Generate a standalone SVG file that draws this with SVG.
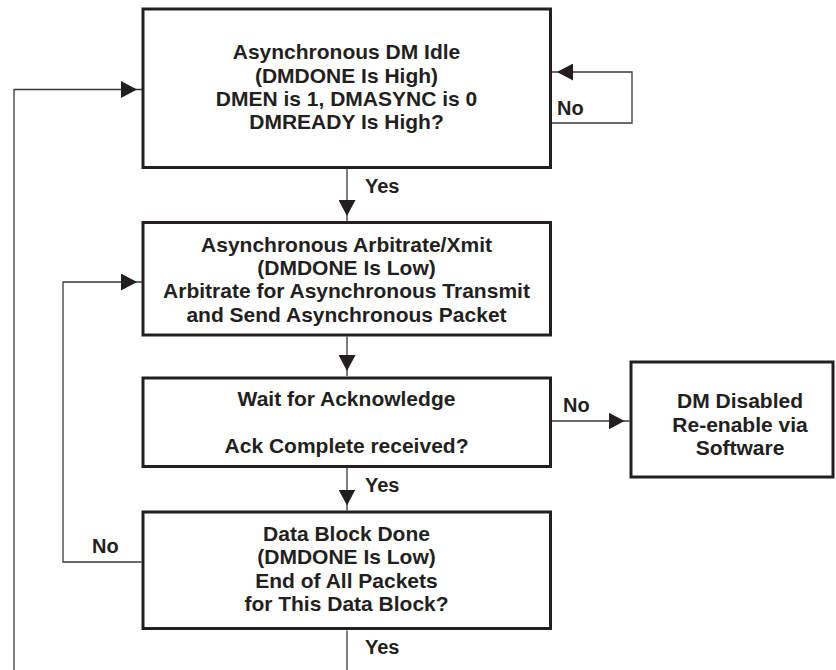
<svg xmlns="http://www.w3.org/2000/svg" width="836" height="670" viewBox="0 0 836 670">
<style>
.box{fill:#fff;stroke:#231f20;stroke-width:3}
.t{font-family:"Liberation Sans",Arial,sans-serif;font-weight:bold;font-size:21px;fill:#231f20;text-anchor:middle}
.lbl{font-family:"Liberation Sans",Arial,sans-serif;font-weight:bold;font-size:20px;fill:#231f20}
.c{fill:none;stroke:#3a3a3a;stroke-width:1.3}
</style>
<defs>
<marker id="ah" viewBox="0 0 21 17" refX="21" refY="8.5" markerWidth="21" markerHeight="17" markerUnits="userSpaceOnUse" orient="auto">
<path d="M0,0 L16,8.5 L0,17 Z" fill="#231f20"/>
</marker>
</defs>
<rect width="836" height="670" fill="#fff"/>
<g id="connectors">
<path class="c" d="M14,670 L14,89.5 L142,89.5" marker-end="url(#ah)"/>
<path class="c" d="M551.5,123 L632,123 L632,72 L552,72" marker-end="url(#ah)"/>
<path class="c" d="M347,168.5 L347,221" marker-end="url(#ah)"/>
<path class="c" d="M347,336.5 L347,376" marker-end="url(#ah)"/>
<path class="c" d="M347,468 L347,510.5" marker-end="url(#ah)"/>
<path class="c" d="M551.5,421 L629.5,421" marker-end="url(#ah)"/>
<path class="c" d="M141.5,562 L63,562 L63,282 L142,282" marker-end="url(#ah)"/>
<path class="c" d="M347,630.5 L347,670"/>
<text class="lbl" x="365" y="193">Yes</text>
<text class="lbl" x="557" y="115">No</text>
<text class="lbl" x="365" y="492">Yes</text>
<text class="lbl" x="563" y="412">No</text>
<text class="lbl" x="92" y="553">No</text>
<text class="lbl" x="365" y="654">Yes</text>
</g>
<g id="idle">
<rect class="box" x="143" y="9" width="407.5" height="158.5"/>
<text class="t" x="346.5" y="59">Asynchronous DM Idle</text>
<text class="t" x="346.5" y="82.5">(DMDONE Is High)</text>
<text class="t" x="346.5" y="106">DMEN is 1, DMASYNC is 0</text>
<text class="t" x="346.5" y="129">DMREADY Is High?</text>
</g>
<g id="arbitrate">
<rect class="box" x="143" y="222.5" width="407.5" height="112.5"/>
<text class="t" x="346.5" y="251.5">Asynchronous Arbitrate/Xmit</text>
<text class="t" x="346.5" y="274.8">(DMDONE Is Low)</text>
<text class="t" x="346.5" y="298.1">Arbitrate for Asynchronous Transmit</text>
<text class="t" x="346.5" y="321.5">and Send Asynchronous Packet</text>
</g>
<g id="wait">
<rect class="box" x="143" y="378" width="407.5" height="88.5"/>
<text class="t" x="346.5" y="406">Wait for Acknowledge</text>
<text class="t" x="346.5" y="452.7">Ack Complete received?</text>
</g>
<g id="disabled">
<rect class="box" x="631" y="362" width="202" height="115"/>
<text class="t" x="740" y="408.3">DM Disabled</text>
<text class="t" x="740" y="431.7">Re-enable via</text>
<text class="t" x="740" y="455">Software</text>
</g>
<g id="datablock">
<rect class="box" x="143" y="512" width="407.5" height="116.5"/>
<text class="t" x="346.5" y="541">Data Block Done</text>
<text class="t" x="346.5" y="564.3">(DMDONE Is Low)</text>
<text class="t" x="346.5" y="587.6">End of All Packets</text>
<text class="t" x="346.5" y="611">for This Data Block?</text>
</g>
</svg>
